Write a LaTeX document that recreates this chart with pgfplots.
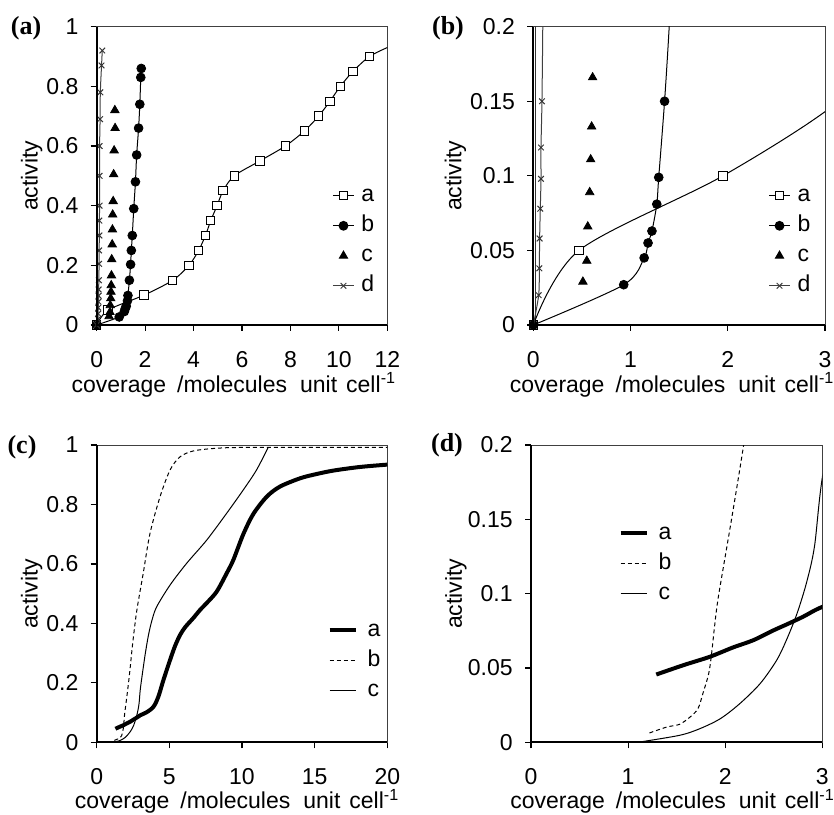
\documentclass[border=0pt]{standalone}
\usepackage{fontspec}
\setmainfont{Liberation Sans}
\newfontfamily\panelfont{Liberation Serif}
\usepackage{pgfplots}
\pgfplotsset{compat=1.18}
\usepackage{pgfplotstable}

% panels (a) and (b): measured points
\pgfplotstableread{
x y
0 0
0.47 0.05
1.95 0.10
3.14 0.15
3.81 0.20
4.21 0.25
4.49 0.30
4.71 0.35
4.97 0.40
5.22 0.45
5.68 0.50
6.74 0.55
7.79 0.60
8.57 0.65
9.16 0.70
9.63 0.75
10.06 0.80
10.58 0.85
11.26 0.90
12.0 0.93
}\serA
\pgfplotstableread{
x y
0 0
0.93 0.027
1.14 0.045
1.18 0.055
1.22 0.063
1.27 0.081
1.29 0.099
1.35 0.150
1.40 0.203
1.43 0.25
1.47 0.30
1.53 0.39
1.60 0.48
1.65 0.57
1.73 0.66
1.78 0.74
1.82 0.83
1.84 0.86
}\serB
\pgfplotstableread{
x y
0.51 0.029
0.55 0.043
0.56 0.066
0.58 0.089
0.59 0.111
0.60 0.133
0.61 0.166
0.62 0.22
0.64 0.27
0.65 0.32
0.66 0.37
0.68 0.415
0.70 0.505
0.72 0.585
0.76 0.66
0.75 0.72
}\serC
\pgfplotstableread{
x y
0 0
0.055 0.020
0.062 0.038
0.065 0.058
0.072 0.078
0.079 0.098
0.079 0.119
0.089 0.150
0.098 0.205
0.10 0.25
0.11 0.30
0.11 0.35
0.12 0.40
0.12 0.50
0.12 0.60
0.14 0.69
0.15 0.78
0.20 0.87
0.23 0.92
}\serD

% panels (c) and (d): curves
\pgfplotstableread{
x y
1.29 0.0456
1.57 0.0519
1.84 0.0575
2.08 0.0638
2.29 0.0687
2.50 0.0754
2.63 0.0792
2.80 0.0844
3.00 0.0911
3.40 0.100
3.90 0.119
4.24 0.153
4.59 0.209
5.05 0.277
5.40 0.325
5.75 0.362
6.10 0.388
6.65 0.418
7.11 0.445
7.60 0.470
8.26 0.507
8.94 0.568
9.40 0.613
10.09 0.700
10.78 0.768
11.70 0.826
12.61 0.860
14.0 0.888
15.1 0.902
16.3 0.914
18.1 0.926
20.0 0.934
}\curA
\pgfplotstableread{
x y
1.22 0.0063
1.40 0.0103
1.53 0.0121
1.64 0.0171
1.72 0.0227
1.77 0.0328
1.83 0.0462
1.86 0.0597
1.89 0.0777
1.93 0.098
2.06 0.148
2.19 0.200
2.32 0.258
2.47 0.330
2.75 0.440
3.20 0.568
3.67 0.703
4.36 0.826
5.05 0.916
5.73 0.960
6.65 0.980
8.26 0.989
10.55 0.992
20.0 0.992
}\curB
\pgfplotstableread{
x y
1.10 0.000
1.53 0.0047
1.74 0.0092
1.95 0.0159
2.15 0.026
2.36 0.0395
2.53 0.0552
2.63 0.0687
2.74 0.0867
2.84 0.108
2.92 0.132
3.00 0.178
3.20 0.250
3.35 0.300
3.56 0.360
3.80 0.410
4.13 0.456
5.05 0.529
6.19 0.602
7.57 0.680
8.94 0.770
10.09 0.849
11.0 0.916
11.8 0.992
}\curC

\newcommand{\covlabel}{coverage\hspace{5.5pt}/molecules\hspace{6.5pt}unit\hspace{4.5pt}cell\textsuperscript{-1}}

\pgfplotsset{
  panel/.style={
    scale only axis,
    font=\fontsize{11.5}{13.5}\selectfont,
    /pgf/number format/assume math mode=true,
    axis line style={line width=0.5pt, black!75},
    tick style={black, line width=0.6pt},
    major tick length=3pt,
    tick align=outside,
    xtick pos=left, ytick pos=left,
    scaled ticks=false,
    enlargelimits=false,
    yticklabel style={/pgf/number format/fixed, /pgf/number format/precision=2,
      inner sep=0pt, anchor=east, xshift=-6pt},
    xticklabel style={inner sep=0pt, anchor=north, yshift=-10pt},
    clip mode=individual,
    xlabel={\covlabel},
    ylabel={activity},
    legend style={draw=none, fill=none, inner sep=0pt, row sep=5pt, column sep=3.5pt,
      nodes={inner sep=0pt, text height=8pt, text depth=2pt}},
    legend cell align=left,
    after end axis/.code={\draw[line width=1pt, black] (rel axis cs:0,1) -- (rel axis cs:0,0) -- (rel axis cs:1,0);},
  },
  shortleg/.style={legend image code/.code={\draw[mark repeat=2,mark phase=2,##1] plot coordinates {(0pt,0pt)(5.25pt,0pt)(10.5pt,0pt)};}},
  longleg/.style={legend image code/.code={\draw[##1] (0pt,0pt) -- (13pt,0pt);}},
}

\begin{document}
\begin{tikzpicture}
\useasboundingbox (0pt,0pt) rectangle (417pt,407pt);

% (a)
\begin{axis}[panel, shortleg,
  at={(48.35pt,244.5pt)}, anchor=south west,
  width=145.3pt, height=149.15pt,
  xmin=0, xmax=12, ymin=0, ymax=1,
  xtick={0,2,4,6,8,10,12}, ytick={0,0.2,0.4,0.6,0.8,1},
  xlabel style={at={([yshift=-30pt]axis description cs:0.472,0)}, anchor=center, inner sep=0pt},
  ylabel style={at={([xshift=-32.5pt]axis description cs:0,0.5)}, anchor=center, inner sep=0pt},
  legend style={at={(axis description cs:0.81,0.468)}, anchor=north west},
]
\addplot[forget plot, black!80, line width=0.5pt] coordinates {(0.027,0) (0.027,1)};
\addplot[forget plot, black, line width=0.5pt, smooth] table {\serA};
\addplot[forget plot, only marks, mark=square*, mark size=2.1pt, mark options={fill=white, draw=black, line width=0.5pt}, restrict x to domain=0:11.5] table {\serA};
\addplot[forget plot, black, line width=0.5pt, smooth] table {\serB};
\addplot[forget plot, only marks, mark=*, mark size=2.2pt, black] table {\serB};
\addplot[forget plot, only marks, mark=triangle*, mark size=2.4pt, black] table {\serC};
\addplot[forget plot, black!75, line width=0.5pt, smooth] table {\serD};
\addplot[forget plot, only marks, mark=x, mark size=2pt, black!80, mark options={line width=0.5pt}] table {\serD};
\addlegendimage{black, line width=0.5pt, mark=square*, mark size=2.1pt, mark options={fill=white, draw=black}}
\addlegendentry{a}
\addlegendimage{black, line width=0.5pt, mark=*, mark size=2.2pt}
\addlegendentry{b}
\addlegendimage{only marks, black, mark=triangle*, mark size=2.4pt}
\addlegendentry{c}
\addlegendimage{black!75, line width=0.5pt, mark=x, mark size=2pt}
\addlegendentry{d}
\end{axis}

% (b)
\begin{axis}[panel, shortleg,
  at={(266.65pt,244.5pt)}, anchor=south west,
  width=145.85pt, height=149.15pt,
  xmin=0, xmax=3, ymin=0, ymax=0.2,
  xtick={0,1,2,3}, ytick={0,0.05,0.1,0.15,0.2},
  xlabel style={at={([yshift=-30pt]axis description cs:0.476,0)}, anchor=center, inner sep=0pt},
  ylabel style={at={([xshift=-39pt]axis description cs:0,0.5)}, anchor=center, inner sep=0pt},
  legend style={at={(axis description cs:0.805,0.468)}, anchor=north west},
]
\addplot[forget plot, black!80, line width=0.5pt] coordinates {(0.027,0) (0.027,1)};
\addplot[forget plot, black, line width=0.5pt, smooth] table {\serA};
\addplot[forget plot, only marks, mark=square*, mark size=2.1pt, mark options={fill=white, draw=black, line width=0.5pt}, restrict x to domain=0:2.9, restrict y to domain=0:0.199] table {\serA};
\addplot[forget plot, black, line width=0.5pt, smooth] table {\serB};
\addplot[forget plot, only marks, mark=*, mark size=2.2pt, black, restrict y to domain=0:0.199] table {\serB};
\addplot[forget plot, only marks, mark=triangle*, mark size=2.4pt, black, restrict y to domain=0:0.199] table {\serC};
\addplot[forget plot, black!75, line width=0.5pt, smooth] table {\serD};
\addplot[forget plot, only marks, mark=x, mark size=2pt, black!80, mark options={line width=0.5pt}, restrict y to domain=0.01:0.199] table {\serD};
\addlegendimage{black, line width=0.5pt, mark=square*, mark size=2.1pt, mark options={fill=white, draw=black}}
\addlegendentry{a}
\addlegendimage{black, line width=0.5pt, mark=*, mark size=2.2pt}
\addlegendentry{b}
\addlegendimage{only marks, black, mark=triangle*, mark size=2.4pt}
\addlegendentry{c}
\addlegendimage{black!75, line width=0.5pt, mark=x, mark size=2pt}
\addlegendentry{d}
\end{axis}

% (c)
\begin{axis}[panel, longleg,
  at={(48.35pt,35.85pt)}, anchor=south west,
  width=145.3pt, height=148.65pt,
  xmin=0, xmax=20, ymin=0, ymax=1,
  xtick={0,5,10,15,20}, ytick={0,0.2,0.4,0.6,0.8,1},
  xlabel style={at={([yshift=-29.5pt]axis description cs:0.483,0)}, anchor=center, inner sep=0pt},
  ylabel style={at={([xshift=-32.5pt]axis description cs:0,0.5)}, anchor=center, inner sep=0pt},
  legend style={at={(axis description cs:0.793,0.412)}, anchor=north west, column sep=5pt},
]
\addplot[black, line width=2pt, smooth] table {\curA};
\addlegendentry{a}
\addplot[black, line width=0.5pt, dash pattern=on 2pt off 1.5pt, smooth] table {\curB};
\addlegendentry{b}
\addplot[black, line width=0.5pt, smooth] table {\curC};
\addlegendentry{c}
\end{axis}

% (d)
\begin{axis}[panel, longleg,
  at={(265.5pt,35.85pt)}, anchor=south west,
  width=145.65pt, height=148.65pt,
  xmin=0, xmax=3, ymin=0, ymax=0.2,
  xtick={0,1,2,3}, ytick={0,0.05,0.1,0.15,0.2},
  xlabel style={at={([yshift=-29.5pt]axis description cs:0.486,0)}, anchor=center, inner sep=0pt},
  ylabel style={at={([xshift=-37.5pt]axis description cs:0,0.5)}, anchor=center, inner sep=0pt},
  legend style={at={(axis description cs:0.299,0.739)}, anchor=north west, column sep=5pt},
]
\addplot[black, line width=2pt, smooth] table {\curA};
\addlegendentry{a}
\addplot[black, line width=0.5pt, dash pattern=on 2pt off 1.5pt, smooth] table {\curB};
\addlegendentry{b}
\addplot[black, line width=0.5pt, smooth] table {\curC};
\addlegendentry{c}
\end{axis}

\node[font=\panelfont\bfseries\fontsize{13}{15}\selectfont] at (13pt,393pt) {(a)};
\node[font=\panelfont\bfseries\fontsize{13}{15}\selectfont] at (224pt,393pt) {(b)};
\node[font=\panelfont\bfseries\fontsize{13}{15}\selectfont] at (11pt,183.5pt) {(c)};
\node[font=\panelfont\bfseries\fontsize{13}{15}\selectfont] at (223.5pt,184.5pt) {(d)};
\end{tikzpicture}
\end{document}
